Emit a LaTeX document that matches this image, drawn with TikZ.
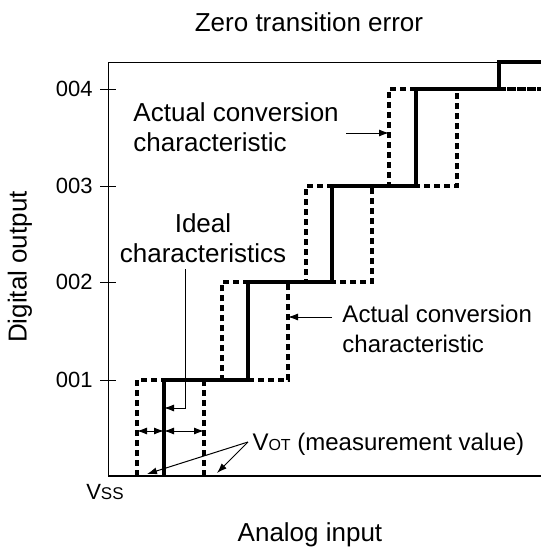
\documentclass[tikz,border=0pt]{standalone}
\usepackage{fontspec}
\setmainfont{Liberation Sans}
\usetikzlibrary{arrows.meta,calc}
\tikzset{
  every picture/.style={
    line width=0.5pt,
    >={Latex[width=3.5pt, length=5pt]}
  },
  ideal line/.style={
    line width=1.8pt
  },
  actual line/.style={
    line width=1.6pt, dash pattern=on 3pt off 2pt
  },
  big text/.style={
    font=\fontsize{13}{15}\selectfont, inner sep=0pt
  },
  mid text/.style={
    font=\fontsize{12}{15}\selectfont, inner sep=0pt
  },
  small text/.style={
    font=\fontsize{11}{13}\selectfont, inner sep=0pt
  }
}

\begin{document}
\begin{tikzpicture}[x=0.5pt, y=-0.5pt]
  \useasboundingbox (0,0) rectangle (541,553);
  \draw (108,476) coordinate(O) -- (108,62) coordinate(P) -- (541,62);
  \draw[line width=0.8pt] (O) -- (541,476);
  \foreach \y/\code in {380/001, 282/002, 186/003, 89/004}
    \draw (100,\y) node[small text, left=3.5pt] {\code} -- (116,\y);
  \draw[ideal line] (164,476) -- (164,380) -| (248,282) -| (332,186) -| (416,89) -| (499,62) -- (541,62);
  \draw[actual line] (137,476) -- (137,380) -| (222,282) -| (306,186) -| (389,89) -- (541,89);
  \draw[actual line] (204,476) -- (204,380) -| (288,282) -| (372,186) -| (457,89) -- (541,89);
  \node[big text] (title) at (309,22) {Zero transition error};
  \node[big text, rotate=90] (yaxis) at (20,267) {Digital output};
  \node[big text] (xaxis) at (310,535) {Analog input};
  \node[small text] (vss) at (105,492) {V{\fontsize{8.5}{9}\selectfont SS}};
  \node[big text, align=left, anchor=west] (act1) at (133,127) {Actual conversion\\characteristic};
  \node[mid text, align=left, anchor=west] (act2) at (342,329) {Actual conversion\\characteristic};
  \node[big text, align=center] (ideal) at (203,238) {Ideal\\characteristics};
  \node[mid text, anchor=west] (vot) at (252,444) {V{\fontsize{8}{9}\selectfont OT} (measurement value)};
  \coordinate (a1) at (389,133);
  \coordinate (a2) at (288,317);
  \draw[->] ([xshift=3.5pt]a1 -| act1.east) -- (a1);
  \draw[->] ([xshift=-5pt]a2 -| act2.west) -- (a2);
  \coordinate (i0) at ([xshift=-9pt, yshift=-3pt]ideal.south);
  \coordinate (i1) at (164,408);
  \draw[->] (i0) |- (i1);
  \coordinate (d0) at (137,431);
  \coordinate (d1) at (164,431);
  \coordinate (d2) at (204,431);
  \draw[<->] (d0) -- (d1);
  \draw[<->] (d1) -- (d2);
  \coordinate (v1) at (147,474);
  \coordinate (v2) at (217,473);
  \draw[->] ([xshift=-2pt, yshift=1pt]vot.west) -- (v1);
  \draw[->] ([xshift=-2pt, yshift=1pt]vot.west) -- (v2);
\end{tikzpicture}
\end{document}
